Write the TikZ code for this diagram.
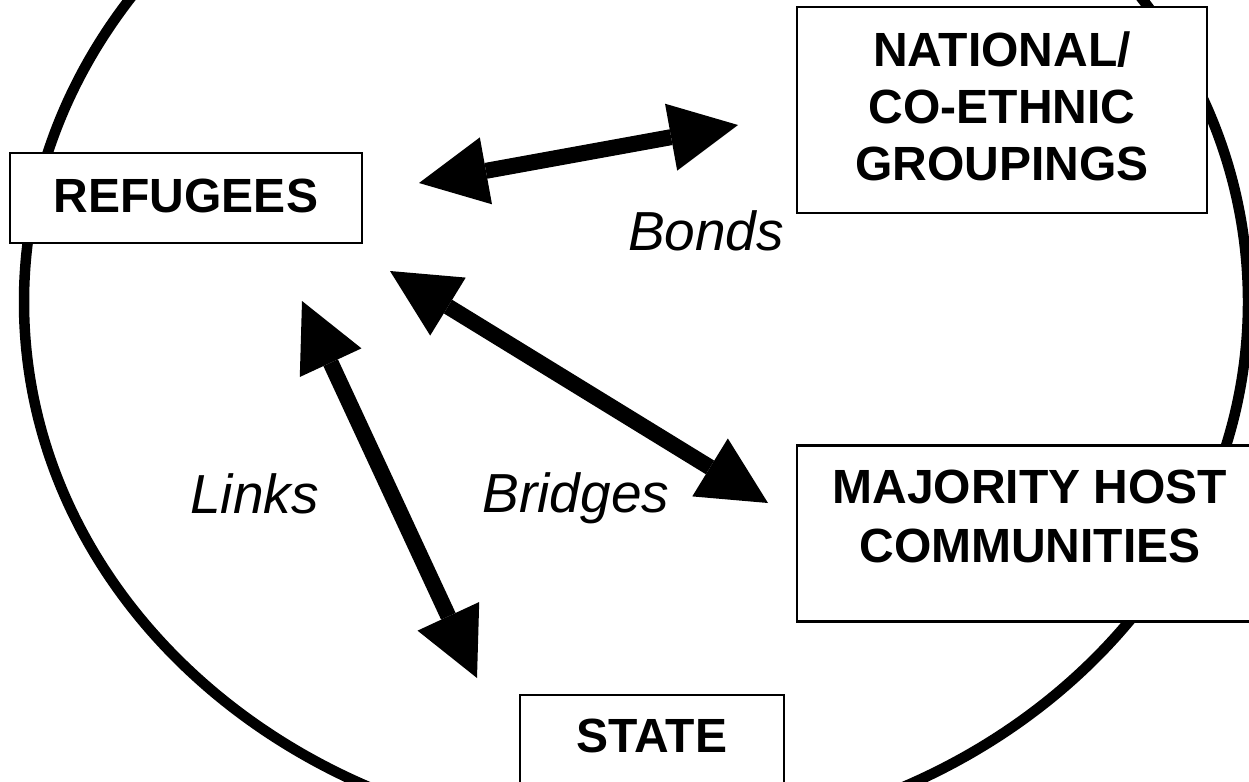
\documentclass[tikz,border=0pt]{standalone}
\usepackage{fontspec}
\setmainfont{Liberation Sans}
\usetikzlibrary{arrows.meta}
\begin{document}
\begin{tikzpicture}[x=1pt,y=-1pt,
  box/.style={draw, line width=2.5pt, fill=white, inner sep=0pt, align=center,
    font=\bfseries\fontsize{48}{57}\selectfont},
  lbl/.style={inner sep=0pt, anchor=base, font=\itshape\fontsize{55}{62}\selectfont},
  dbl/.style={line width=16pt,
    {Triangle[length=68pt,width=68pt,line width=0pt]}-{Triangle[length=68pt,width=68pt,line width=0pt]}}
]
\useasboundingbox (0,0) rectangle (1249,781);
\clip (0,0) rectangle (1249,781);
% surrounding ellipse
\draw[line width=10.5pt] (636,302) ellipse [x radius=612pt, y radius=539pt];
% boxes
\node[box, minimum width=352pt, minimum height=90pt] (ref) at (186,198)
  {REFUGEES\rule[-4pt]{0pt}{4pt}};
\node[box, minimum width=410pt, minimum height=206pt] (nat) at (1002,110)
  {NATIONAL/\\CO-ETHNIC\\GROUPINGS\rule[-7pt]{0pt}{7pt}};
\node[box, minimum width=466pt, minimum height=176pt,
  font=\bfseries\fontsize{48}{58.5}\selectfont] (maj) at (1030,533.5)
  {MAJORITY HOST\\COMMUNITIES\rule[-35pt]{0pt}{35pt}};
\node[box, minimum width=264pt, minimum height=110pt] (state) at (652,750)
  {STATE\rule[-28pt]{0pt}{28pt}};
% arrow ends
\coordinate (bondsA) at (419,183);
\coordinate (bondsB) at (738,125);
\coordinate (bridgesA) at (390,271);
\coordinate (bridgesB) at (768,503);
\coordinate (linksA) at (302,301);
\coordinate (linksB) at (477,678);
% arrows
\draw[dbl] (bondsA) -- (bondsB);
\draw[dbl] (bridgesA) -- (bridgesB);
\draw[dbl] (linksA) -- (linksB);
% labels
\node[lbl] (bonds) at (706,250) {Bonds};
\node[lbl] (links) at (254.5,513) {Links};
\node[lbl] (bridges) at (576,512) {Bridges};
\end{tikzpicture}
\end{document}
